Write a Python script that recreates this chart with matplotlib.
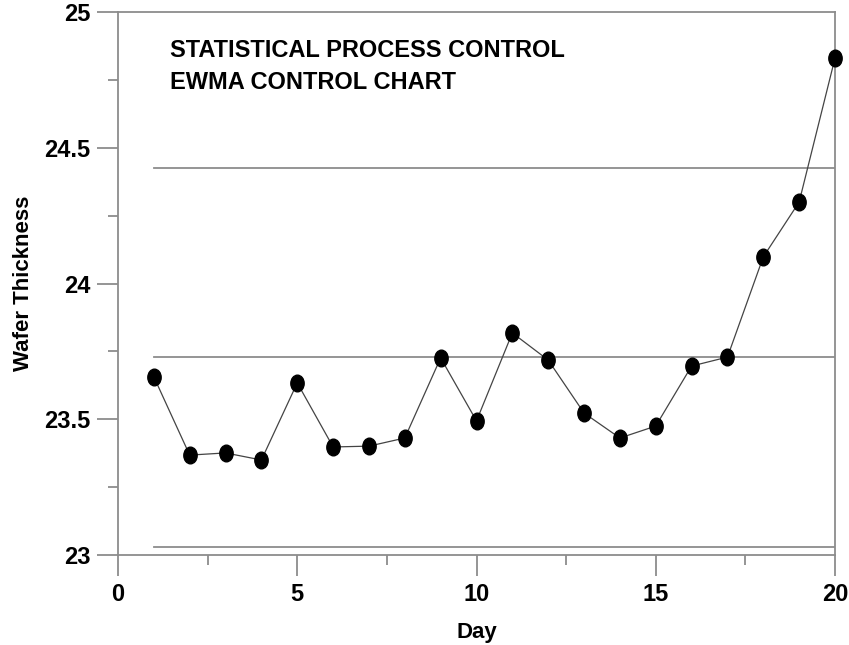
import matplotlib
matplotlib.use("Agg")
import matplotlib.pyplot as plt
from matplotlib.path import Path
from matplotlib.transforms import Affine2D

plt.rcParams['font.family'] = ['Liberation Sans', 'DejaVu Sans']

# EWMA values per day
days = list(range(1, 21))
ewma = [23.656, 23.368, 23.376, 23.350, 23.634, 23.398, 23.401, 23.431, 23.726, 23.494,
        23.818, 23.718, 23.523, 23.431, 23.475, 23.696, 23.729, 24.098, 24.300, 24.830]

ucl = 24.425
center = 23.729
lcl = 23.030

title_lines = ["STATISTICAL PROCESS CONTROL", "EWMA CONTROL CHART"]

gray = '#8c8c8c'

fig = plt.figure(figsize=(8.49, 6.45), dpi=100)
ax = fig.add_axes([0.139, 0.1395, 0.8445, 0.8419])

# control limits and centre line
for lev in (ucl, center, lcl):
    ax.plot([days[0], days[-1]], [lev, lev], color=gray, lw=1.3, zorder=1)

# ellipse marker, a bit taller than wide
ell = Path.unit_circle().transformed(Affine2D().scale(0.8, 1.0))
ax.plot(days, ewma, color='#444444', lw=0.9, marker=ell, markersize=12,
        markerfacecolor='black', markeredgecolor='black', zorder=3, clip_on=False)

ax.set_xlim(0, 20)
ax.set_ylim(23, 25)
ax.set_xticks([0, 5, 10, 15, 20])
ax.set_xticks([2.5, 7.5, 12.5, 17.5], minor=True)
ax.set_yticks([23, 23.5, 24, 24.5, 25])
ax.set_yticklabels(['23', '23.5', '24', '24.5', '25'])
ax.set_yticks([23.25, 23.75, 24.25, 24.75], minor=True)

for s in ax.spines.values():
    s.set_color(gray)
    s.set_linewidth(1.3)

ax.tick_params(which='major', length=15, width=1.3, color=gray, labelsize=17, pad=5)
ax.tick_params(which='minor', length=7, width=1.3, color=gray)
for lab in ax.get_xticklabels() + ax.get_yticklabels():
    lab.set_fontweight('bold')

ax.set_xlabel('Day', fontsize=16, fontweight='bold', labelpad=12)
ax.set_ylabel('Wafer Thickness', fontsize=16, fontweight='bold')
ax.yaxis.set_label_coords(-0.117, 0.5)

ax.text(0.0725, 0.93, title_lines[0], transform=ax.transAxes, fontsize=17,
        fontweight='bold', va='center', ha='left')
ax.text(0.0725, 0.871, title_lines[1], transform=ax.transAxes, fontsize=17,
        fontweight='bold', va='center', ha='left')

fig.savefig('out.png', dpi=100)
